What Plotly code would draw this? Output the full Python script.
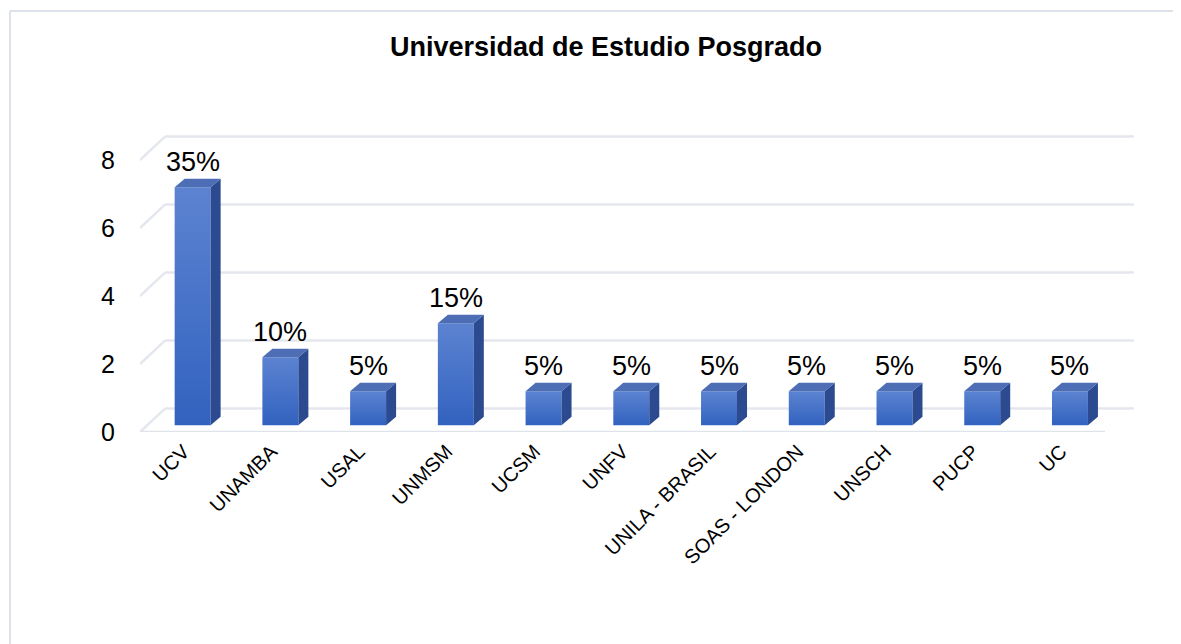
import plotly.graph_objects as go

# data
universidades = ['UCV', 'UNAMBA', 'USAL', 'UNMSM', 'UCSM', 'UNFV', 'UNILA - BRASIL',
                 'SOAS - LONDON', 'UNSCH', 'PUCP', 'UC']
cantidad = [7, 2, 1, 3, 1, 1, 1, 1, 1, 1, 1]
porcentaje = ['35%', '10%', '5%', '15%', '5%', '5%', '5%', '5%', '5%', '5%', '5%']
y_ticks = [0, 2, 4, 6, 8]

# fake 3d look (excel style column)
bar_w = 0.41
dx = 0.114      # depth to the right, x units
dy = 0.25       # depth upwards, y units
back_dy = 0.69  # back wall offset, y units
back_dx = 0.285 # back wall offset, x units
x_min, x_max = -0.6, 10.73

col_top = '#4d6db5'
col_side = '#2b4a90'

fig = go.Figure()

side_x, side_y, top_x, top_y = [], [], [], []
for i, v in enumerate(cantidad):
    l = i - bar_w / 2
    r = i + bar_w / 2
    # front face with gradient
    fig.add_trace(go.Scatter(
        x=[l, r, r, l, l], y=[0, 0, v, v, 0], yaxis='y2',
        mode='lines', line=dict(width=0), fill='toself',
        fillgradient=dict(type='vertical',
                          colorscale=[[0, '#3262bf'], [1, '#5c83d1']]),
        hoverinfo='skip', showlegend=False))
    side_x += [r, r + dx, r + dx, r, r, None]
    side_y += [0, dy, v + dy, v, 0, None]
    top_x += [l, r, r + dx, l + dx, l, None]
    top_y += [v, v, v + dy, v + dy, v, None]

fig.add_trace(go.Scatter(x=side_x, y=side_y, yaxis='y2', mode='lines',
                         line=dict(width=0), fill='toself', fillcolor=col_side,
                         hoverinfo='skip', showlegend=False))
fig.add_trace(go.Scatter(x=top_x, y=top_y, yaxis='y2', mode='lines',
                         line=dict(width=0), fill='toself', fillcolor=col_top,
                         hoverinfo='skip', showlegend=False))

# back wall gridlines + left wall diagonals
grid_col = '#e4e7ee'
for t in y_ticks:
    fig.add_shape(type='line', layer='below', xref='x', yref='y',
                  x0=x_min + back_dx, x1=x_max, y0=t + back_dy, y1=t + back_dy,
                  line=dict(color=grid_col, width=2.5))
    fig.add_shape(type='line', layer='below', xref='x', yref='y',
                  x0=x_min, x1=x_min + back_dx, y0=t, y1=t + back_dy,
                  line=dict(color=grid_col, width=2.5))
# front floor edge
fig.add_shape(type='line', layer='below', xref='x', yref='y',
              x0=x_min, x1=10.4, y0=0, y1=0,
              line=dict(color='#dfe3ea', width=2.5))

# chart border (only left and top edges are in view)
fig.add_shape(type='line', xref='paper', yref='paper',
              x0=-0.1308, x1=-0.1308, y0=-1.5, y1=1.376,
              line=dict(color='#dde2ea', width=2))
fig.add_shape(type='line', xref='paper', yref='paper',
              x0=-0.1308, x1=1.3, y0=1.376, y1=1.376,
              line=dict(color='#dde2ea', width=2))

for i, v in enumerate(cantidad):
    fig.add_annotation(x=i, y=v, xref='x', yref='y2', text=porcentaje[i],
                       showarrow=False, yanchor='bottom', yshift=8,
                       font=dict(size=27, color='#000000'))

# page body has an 8px margin, so the figure is sized/shifted for it
fig.update_layout(
    width=1165, height=636,
    margin=dict(l=132, r=39, t=118, b=212),
    paper_bgcolor='white', plot_bgcolor='white',
    font=dict(family='Liberation Sans, Arial, sans-serif', color='#000000'),
    title=dict(text='<b>Universidad de Estudio Posgrado</b>',
               x=598 / 1165, xref='container', xanchor='center',
               y=1 - 39 / 636, yref='container', yanchor='middle',
               font=dict(size=27, color='#000000')),
    xaxis=dict(range=[x_min, x_max], tickvals=list(range(len(universidades))),
               ticktext=universidades, tickangle=-45, tickfont=dict(size=20),
               showgrid=False, zeroline=False, showline=False, ticks='',
               ticklabelstandoff=3, ticklabelshift=-9),
    yaxis=dict(range=[0, 9], tickvals=y_ticks, tickfont=dict(size=25),
               showgrid=False, zeroline=False, showline=False, ticks='',
               ticklabelstandoff=24),
    yaxis2=dict(range=[-0.2, 8.8], overlaying='y', visible=False),
)

fig.write_html("out.html")
